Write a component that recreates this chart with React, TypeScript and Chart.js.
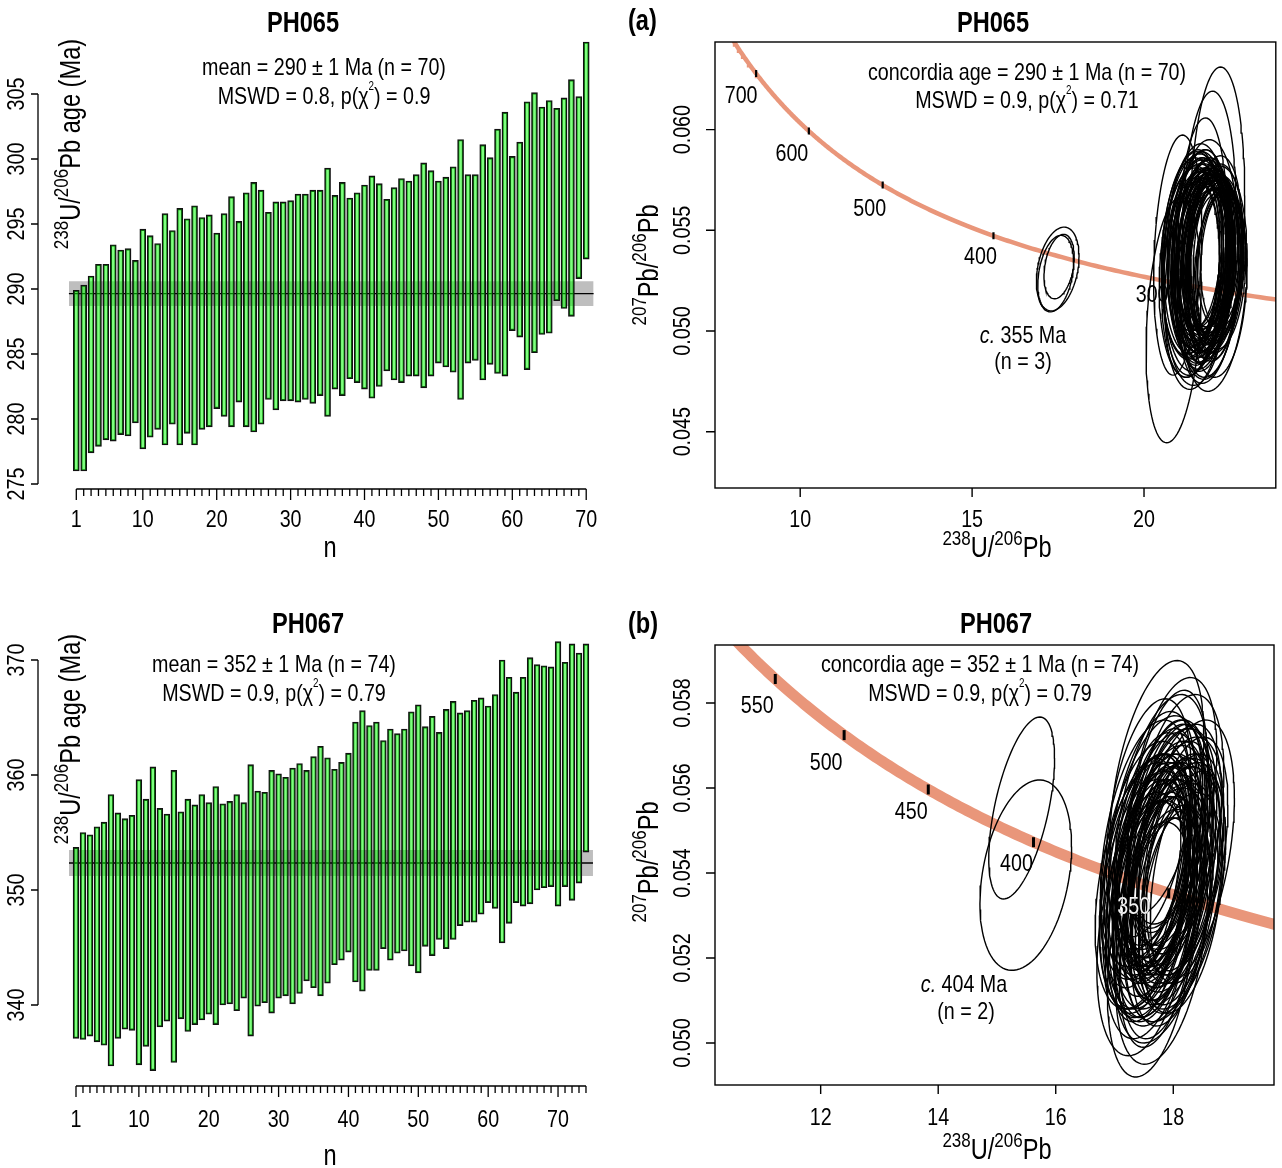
import React, { useEffect, useRef } from 'react';
import { Chart, registerables } from 'chart.js';

Chart.register(...registerables);

const PAGE_W = 1282;
const PAGE_H = 1168;
const FONT_FAMILY = "'Liberation Sans', Arial, Helvetica, sans-serif";
const NARROW = 0.82;
const SALMON = '#E9967A';

// ---------------- PH065 : 206Pb/238U ages (Ma), lower / upper ends of each bar ----------------
const PH065_LOW = [
  276.0, 276.0, 277.4, 277.9, 278.4, 278.3, 278.8, 278.7, 279.7, 277.7,
  278.6, 279.2, 278.0, 279.6, 278.0, 278.9, 278.0, 279.2, 279.4, 280.8,
  280.2, 279.4, 281.3, 279.4, 279.0, 279.6, 281.5, 280.7, 281.4, 281.4,
  281.3, 281.5, 281.2, 281.8, 280.2, 282.3, 281.8, 283.1, 282.8, 282.3,
  281.6, 282.5, 283.7, 283.0, 282.8, 283.3, 283.3, 282.4, 283.3, 284.3,
  284.0, 283.6, 281.5, 284.3, 284.5, 283.0, 284.2, 283.5, 283.3, 286.8,
  286.3, 283.8, 285.1, 286.5, 286.6, 289.1, 288.5, 287.9, 290.8, 292.3,
];
const PH065_HIGH = [
  289.9, 290.3, 291.0, 291.9, 291.9, 293.4, 293.0, 293.1, 292.2, 294.6,
  294.1, 293.5, 295.8, 294.5, 296.2, 295.4, 296.4, 295.5, 295.7, 294.3,
  295.8, 297.1, 295.2, 297.4, 298.2, 297.6, 295.9, 296.7, 296.7, 296.8,
  297.3, 297.3, 297.6, 297.6, 299.3, 297.2, 298.2, 297.0, 297.4, 298.0,
  298.7, 298.1, 296.9, 297.8, 298.5, 298.3, 298.8, 299.7, 299.1, 298.3,
  298.6, 299.4, 301.5, 298.8, 298.8, 301.1, 300.1, 302.3, 303.6, 300.2,
  301.3, 304.4, 305.1, 304.0, 304.5, 303.9, 304.7, 306.1, 304.8, 309.0,
];
const PH065_MEAN = 289.65;
const PH065_MEAN_ERR = 0.95;
const PH065_Y_TICKS = [275, 280, 285, 290, 295, 300, 305];
const N_MAJOR_TICKS = [1, 10, 20, 30, 40, 50, 60, 70];

// ---------------- PH067 ----------------
const PH067_LOW = [
  337.1, 337.0, 337.3, 336.8, 336.5, 334.7, 337.1, 337.9, 337.8, 334.8,
  336.4, 334.3, 338.1, 338.6, 335.0, 338.8, 337.7, 338.3, 338.7, 339.2,
  338.3, 340.0, 340.1, 339.5, 340.6, 337.3, 339.9, 340.2, 339.3, 340.6,
  340.8, 340.1, 341.0, 342.1, 341.5, 340.8, 341.9, 343.5, 343.9, 344.6,
  342.0, 341.2, 343.0, 343.0, 344.9, 343.9, 344.5, 344.7, 343.4, 342.8,
  345.1, 344.3, 345.7, 344.9, 345.7, 346.9, 347.2, 347.2, 347.9, 348.9,
  348.4, 345.4, 347.1, 348.9, 348.6, 348.8, 350.0, 350.2, 350.3, 348.6,
  350.3, 349.1, 350.6, 353.3,
];
const PH067_HIGH = [
  353.7, 355.0, 354.8, 355.5, 355.9, 358.3, 356.7, 356.2, 356.5, 359.6,
  357.9, 360.7, 357.1, 356.6, 360.4, 356.8, 357.9, 357.4, 358.3, 357.6,
  359.0, 357.5, 357.7, 358.3, 357.6, 360.9, 358.6, 358.5, 360.4, 360.1,
  359.8, 360.6, 361.0, 360.4, 361.6, 362.5, 361.5, 360.5, 361.1, 361.9,
  364.6, 365.6, 364.3, 364.6, 363.0, 364.0, 363.6, 364.0, 365.5, 366.1,
  364.2, 365.1, 363.7, 365.7, 366.4, 365.4, 365.6, 366.5, 366.7, 366.0,
  367.0, 370.0, 368.5, 367.2, 368.5, 370.2, 369.6, 369.5, 369.4, 371.6,
  369.8, 371.4, 370.6, 371.4,
];
const PH067_MEAN = 352.35;
const PH067_MEAN_ERR = 1.13;
const PH067_Y_TICKS = [340, 350, 360, 370];

// ---------------- Concordia error ellipses: [238U/206Pb, 207Pb/206Pb, half-width, half-height, rho] ----------------
const PH065_ELLIPSES = [
  [22.13, 0.05586, 0.80, 0.00725, 0.12], [21.90, 0.05526, 0.78, 0.00665, 0.12],
  [21.70, 0.05452, 0.72, 0.00606, 0.12], [20.98, 0.05377, 0.70, 0.00596, 0.20],
  [20.86, 0.05055, 0.80, 0.00610, 0.25],
  [21.62, 0.0535, 0.80, 0.0045, 0.15], [21.85, 0.0530, 0.72, 0.0040, 0.10], [21.48, 0.0541, 0.90, 0.0052, 0.20],
  [22.05, 0.0528, 0.76, 0.0043, 0.13], [21.71, 0.0537, 0.85, 0.0048, 0.17], [21.93, 0.0533, 0.67, 0.0037, 0.07],
  [21.55, 0.0526, 0.95, 0.0055, 0.23], [22.12, 0.0539, 0.78, 0.0044, 0.12], [21.79, 0.0531, 0.74, 0.0041, 0.16],
  [21.38, 0.0536, 0.88, 0.0050, 0.11], [22.20, 0.0532, 0.70, 0.0038, 0.19], [21.66, 0.0543, 0.83, 0.0047, 0.14],
  [21.88, 0.0527, 0.92, 0.0053, 0.21], [21.44, 0.0534, 0.77, 0.0042, 0.09], [22.01, 0.0538, 0.73, 0.0040, 0.18],
  [21.74, 0.0529, 0.86, 0.0049, 0.15], [21.59, 0.0540, 0.79, 0.0045, 0.12], [21.97, 0.0535, 0.66, 0.0036, 0.20],
  [21.83, 0.0544, 0.89, 0.0051, 0.08], [22.25, 0.0530, 0.71, 0.0039, 0.16], [21.51, 0.0532, 0.94, 0.0054, 0.22],
  [21.69, 0.0527, 0.82, 0.0046, 0.13], [22.08, 0.0536, 0.76, 0.0042, 0.11], [21.90, 0.0539, 0.68, 0.0037, 0.17],
  [21.35, 0.0529, 0.91, 0.0052, 0.14], [21.77, 0.0542, 0.78, 0.0044, 0.19], [22.15, 0.0534, 0.72, 0.0040, 0.10],
  [21.63, 0.0531, 0.84, 0.0048, 0.15], [21.86, 0.0537, 0.74, 0.0041, 0.21], [21.47, 0.0545, 0.80, 0.0045, 0.12],
  [22.03, 0.0526, 0.97, 0.0056, 0.18], [21.72, 0.0533, 0.77, 0.0043, 0.09], [21.95, 0.0540, 0.70, 0.0038, 0.16],
  [21.57, 0.0536, 0.88, 0.0050, 0.13], [22.18, 0.0529, 0.73, 0.0040, 0.20], [21.81, 0.0534, 0.83, 0.0047, 0.11],
  [21.41, 0.0538, 0.90, 0.0051, 0.15], [21.99, 0.0531, 0.68, 0.0037, 0.17], [21.68, 0.0546, 0.79, 0.0044, 0.14],
  [22.10, 0.0535, 0.76, 0.0042, 0.22], [21.53, 0.0528, 0.96, 0.0055, 0.10], [21.87, 0.0541, 0.72, 0.0040, 0.19],
  [21.76, 0.0532, 0.85, 0.0048, 0.12], [22.22, 0.0537, 0.66, 0.0035, 0.16], [21.60, 0.0530, 0.82, 0.0046, 0.08],
  [21.92, 0.0527, 0.89, 0.0050, 0.18], [21.45, 0.0533, 0.74, 0.0041, 0.13], [22.06, 0.0543, 0.78, 0.0044, 0.21],
  [21.70, 0.0539, 0.71, 0.0039, 0.15], [21.84, 0.0529, 0.92, 0.0053, 0.11], [21.36, 0.0535, 0.84, 0.0047, 0.17],
  [21.98, 0.0532, 0.77, 0.0043, 0.14], [21.64, 0.0538, 0.67, 0.0036, 0.20], [22.13, 0.0526, 0.86, 0.0049, 0.09],
  [21.78, 0.0540, 0.80, 0.0045, 0.16], [21.50, 0.0534, 0.95, 0.0054, 0.12], [21.89, 0.0530, 0.73, 0.0041, 0.19],
  [22.30, 0.0536, 0.65, 0.0034, 0.15], [21.58, 0.0542, 0.83, 0.0047, 0.13], [21.73, 0.0531, 0.76, 0.0042, 0.18],
  [21.94, 0.0537, 0.70, 0.0038, 0.10], [21.42, 0.0528, 0.90, 0.0051, 0.21], [22.02, 0.0533, 0.79, 0.0044, 0.14],
  [21.80, 0.0539, 0.72, 0.0040, 0.17], [21.67, 0.0535, 0.85, 0.0048, 0.12],
];
const PH065_OUTLIERS = [
  [17.49, 0.05308, 0.62, 0.00208, 0.30],
  [17.43, 0.05285, 0.52, 0.00190, 0.30],
  [17.53, 0.05320, 0.44, 0.00160, 0.30],
];
const PH065_CONC_AGES = [300, 400, 500, 600, 700];

const PH067_ELLIPSES = [
  [17.78, 0.0541, 0.73, 0.0027, 0.40], [17.62, 0.0536, 0.64, 0.0025, 0.35], [17.95, 0.0545, 0.79, 0.0029, 0.43],
  [17.70, 0.0532, 0.67, 0.0026, 0.37], [18.05, 0.0540, 0.75, 0.0028, 0.41], [17.55, 0.0538, 0.81, 0.0030, 0.39],
  [17.88, 0.0534, 0.61, 0.0024, 0.33], [17.74, 0.0547, 0.69, 0.0027, 0.42], [18.12, 0.0537, 0.77, 0.0029, 0.38],
  [17.66, 0.0543, 0.63, 0.0025, 0.36], [17.83, 0.0530, 0.84, 0.0030, 0.40], [17.50, 0.0533, 0.70, 0.0026, 0.34],
  [17.97, 0.0549, 0.66, 0.0026, 0.39], [17.72, 0.0539, 0.57, 0.0023, 0.32], [18.20, 0.0544, 0.73, 0.0028, 0.43],
  [17.60, 0.0529, 0.76, 0.0028, 0.37], [17.91, 0.0541, 0.64, 0.0025, 0.35], [17.80, 0.0552, 0.80, 0.0030, 0.42],
  [17.45, 0.0540, 0.68, 0.0027, 0.38], [18.02, 0.0531, 0.61, 0.0024, 0.34], [17.68, 0.0546, 0.86, 0.0031, 0.41],
  [17.86, 0.0536, 0.67, 0.0026, 0.36], [17.58, 0.0544, 0.62, 0.0024, 0.39], [18.10, 0.0548, 0.72, 0.0027, 0.40],
  [17.76, 0.0533, 0.78, 0.0029, 0.35], [17.93, 0.0538, 0.65, 0.0025, 0.38], [17.64, 0.0550, 0.74, 0.0028, 0.42],
  [17.82, 0.0542, 0.59, 0.0023, 0.33], [18.15, 0.0533, 0.68, 0.0026, 0.37], [17.53, 0.0547, 0.77, 0.0029, 0.41],
  [17.99, 0.0535, 0.85, 0.0030, 0.39], [17.71, 0.0540, 0.66, 0.0025, 0.36], [17.87, 0.0551, 0.63, 0.0025, 0.40],
  [17.48, 0.0535, 0.73, 0.0027, 0.34], [18.07, 0.0543, 0.79, 0.0029, 0.42], [17.79, 0.0528, 0.69, 0.0027, 0.37],
  [17.61, 0.0541, 0.58, 0.0023, 0.35], [17.94, 0.0546, 0.75, 0.0028, 0.41], [17.73, 0.0536, 0.83, 0.0030, 0.38],
  [18.25, 0.0539, 0.64, 0.0025, 0.39], [17.56, 0.0531, 0.67, 0.0026, 0.36], [17.89, 0.0544, 0.70, 0.0027, 0.40],
  [17.67, 0.0548, 0.65, 0.0025, 0.37], [18.00, 0.0538, 0.80, 0.0029, 0.41], [17.84, 0.0534, 0.62, 0.0024, 0.34],
  [17.52, 0.0543, 0.76, 0.0028, 0.39], [17.96, 0.0530, 0.68, 0.0026, 0.36], [17.75, 0.0545, 0.73, 0.0028, 0.42],
  [18.13, 0.0541, 0.59, 0.0024, 0.35], [17.63, 0.0537, 0.78, 0.0029, 0.38], [17.90, 0.0549, 0.66, 0.0026, 0.41],
  [17.69, 0.0532, 0.72, 0.0027, 0.37], [17.81, 0.0539, 0.85, 0.0031, 0.40], [18.04, 0.0546, 0.63, 0.0025, 0.39],
  [17.57, 0.0542, 0.69, 0.0026, 0.35], [17.92, 0.0533, 0.75, 0.0028, 0.38], [17.77, 0.0544, 0.61, 0.0024, 0.41],
  [17.46, 0.0537, 0.79, 0.0029, 0.36], [18.09, 0.0535, 0.67, 0.0026, 0.39], [17.65, 0.0539, 0.64, 0.0025, 0.37],
  [17.85, 0.0547, 0.77, 0.0029, 0.42], [17.98, 0.0540, 0.70, 0.0027, 0.38], [17.59, 0.0534, 0.74, 0.0028, 0.35],
  [18.18, 0.0542, 0.68, 0.0026, 0.40], [17.72, 0.0560, 0.80, 0.0030, 0.43], [17.98, 0.0557, 0.76, 0.0029, 0.41],
  [17.62, 0.0522, 0.74, 0.0030, 0.35], [17.80, 0.0524, 0.78, 0.0029, 0.37], [18.22, 0.0545, 0.82, 0.0031, 0.41],
  [17.50, 0.0527, 0.80, 0.0030, 0.33], [17.90, 0.0555, 0.68, 0.0028, 0.42], [17.74, 0.0526, 0.66, 0.0027, 0.38],
  [18.06, 0.0552, 0.80, 0.0030, 0.40], [17.58, 0.0553, 0.72, 0.0028, 0.39],
];
const PH067_OUTLIERS = [
  [15.42, 0.05553, 0.56, 0.00214, 0.55],
  [15.49, 0.05395, 0.78, 0.00224, 0.30],
];
const PH067_CONC_AGES = [350, 400, 450, 500, 550];

// decay constants (per Ma) and 238U/235U for the Tera-Wasserburg concordia
const LAMBDA_238 = 1.55125e-4;
const LAMBDA_235 = 9.8485e-4;
const U238_U235 = 137.818;

function concordiaPoint(t: number) {
  const a = Math.exp(LAMBDA_238 * t) - 1;
  const b = Math.exp(LAMBDA_235 * t) - 1;
  return { x: 1 / a, y: b / a / U238_U235 };
}
function concordiaCurve(t0: number, t1: number) {
  const pts: { x: number; y: number }[] = [];
  for (let t = t0; t <= t1; t += 2) pts.push(concordiaPoint(t));
  return pts;
}
function ellipsePoints(e: number[]) {
  const [u, v, su, sv, rho] = e;
  const pts: { x: number; y: number }[] = [];
  const k = Math.sqrt(1 - rho * rho);
  for (let i = 0; i <= 96; i++) {
    const th = (2 * Math.PI * i) / 96;
    pts.push({ x: u + su * Math.cos(th), y: v + sv * (rho * Math.cos(th) + k * Math.sin(th)) });
  }
  return pts;
}

// ---------------- text helper ----------------
type Seg = { t: string; sup?: number; it?: boolean };
function richText(
  ctx: CanvasRenderingContext2D,
  segs: Seg[],
  x: number,
  y: number,
  size: number,
  opts: { bold?: boolean; align?: 'left' | 'center' | 'right'; rot?: number; color?: string } = {}
) {
  ctx.save();
  ctx.translate(x, y);
  if (opts.rot) ctx.rotate(opts.rot);
  ctx.scale(NARROW, 1);
  const font = (s: Seg) =>
    `${s.it ? 'italic ' : ''}${opts.bold ? 'bold ' : ''}${(s.sup ? size * s.sup : size).toFixed(2)}px ${FONT_FAMILY}`;
  const widths = segs.map((s) => {
    ctx.font = font(s);
    return ctx.measureText(s.t).width;
  });
  const total = widths.reduce((p, c) => p + c, 0);
  let cx = opts.align === 'left' ? 0 : opts.align === 'right' ? -total : -total / 2;
  ctx.textAlign = 'left';
  ctx.textBaseline = 'middle';
  ctx.fillStyle = opts.color ?? '#000';
  segs.forEach((s, i) => {
    ctx.font = font(s);
    const dy = s.sup ? -size * (s.sup < 0.6 ? 0.42 : 0.34) : 0;
    ctx.fillText(s.t, cx, dy);
    cx += widths[i];
  });
  ctx.restore();
}
const plain = (t: string): Seg[] => [{ t }];
const mswdLine = (mswd: string, p: string): Seg[] => [
  { t: `MSWD = ${mswd}, p(\u03C7` },
  { t: '2', sup: 0.5 },
  { t: `) = ${p}` },
];
const AGE_TITLE: Seg[] = [{ t: '238', sup: 0.72 }, { t: 'U/' }, { t: '206', sup: 0.72 }, { t: 'Pb age (Ma)' }];
const PB_TITLE: Seg[] = [{ t: '207', sup: 0.72 }, { t: 'Pb/' }, { t: '206', sup: 0.72 }, { t: 'Pb' }];
const U_TITLE: Seg[] = [{ t: '238', sup: 0.72 }, { t: 'U/' }, { t: '206', sup: 0.72 }, { t: 'Pb' }];

const BASE = 24;
const BIG = 28.8;

type Area = { l: number; r: number; t: number; b: number };
const padding = (a: Area) => ({ left: a.l, right: PAGE_W - a.r, top: a.t, bottom: PAGE_H - a.b });

// ---------------- weighted-mean bar panel ----------------
interface BarPanel {
  lows: number[];
  highs: number[];
  mean: number;
  err: number;
  yTicks: number[];
  area: Area;
  xRange: [number, number];
  yRange: [number, number];
  barThickness: number;
  title: string;
  titleXY: [number, number];
  line1: Seg[];
  line2: Seg[];
  textX: number;
  textY: [number, number];
  yTitleXY: [number, number];
  xLabelY: number;
  nXY: [number, number];
}

function barConfig(p: BarPanel): any {
  const n = p.lows.length;
  const decor = {
    id: 'barDecor',
    afterDatasetsDraw(chart: any) {
      const ctx: CanvasRenderingContext2D = chart.ctx;
      const xs = chart.scales.x;
      const ys = chart.scales.y;
      const a = chart.chartArea;
      ctx.save();
      ctx.strokeStyle = '#000';
      ctx.lineWidth = 1.3;
      ctx.beginPath();
      ctx.moveTo(a.left, ys.getPixelForValue(p.yTicks[0]));
      ctx.lineTo(a.left, ys.getPixelForValue(p.yTicks[p.yTicks.length - 1]));
      for (const v of p.yTicks) {
        const py = ys.getPixelForValue(v);
        ctx.moveTo(a.left - 7, py);
        ctx.lineTo(a.left, py);
      }
      ctx.moveTo(xs.getPixelForValue(1), a.bottom);
      ctx.lineTo(xs.getPixelForValue(n), a.bottom);
      for (let i = 1; i <= n; i++) {
        const px = xs.getPixelForValue(i);
        ctx.moveTo(px, a.bottom);
        ctx.lineTo(px, a.bottom + (N_MAJOR_TICKS.includes(i) ? 11 : 7));
      }
      ctx.stroke();
      ctx.restore();
      for (const v of p.yTicks) richText(ctx, plain(String(v)), a.left - 21, ys.getPixelForValue(v), BASE, { rot: -Math.PI / 2 });
      for (const v of N_MAJOR_TICKS) richText(ctx, plain(String(v)), xs.getPixelForValue(v), p.xLabelY, BASE);
      richText(ctx, plain('n'), p.nXY[0], p.nXY[1], BIG);
      richText(ctx, AGE_TITLE, p.yTitleXY[0], p.yTitleXY[1], BIG, { rot: -Math.PI / 2 });
      richText(ctx, plain(p.title), p.titleXY[0], p.titleXY[1], BIG, { bold: true });
      richText(ctx, p.line1, p.textX, p.textY[0], BASE);
      richText(ctx, p.line2, p.textX, p.textY[1], BASE);
    },
  };
  return {
    type: 'bar',
    data: {
      datasets: [
        {
          type: 'bar',
          data: p.lows.map((lo, i) => ({ x: i + 1, y: [lo, p.highs[i]] })),
          backgroundColor: 'rgba(0,255,0,0.5)',
          borderColor: '#111',
          borderWidth: 1.4,
          borderSkipped: false,
          barThickness: p.barThickness,
        },
        {
          type: 'line',
          data: [{ x: 0, y: p.mean }, { x: n + 1, y: p.mean }],
          borderColor: '#000',
          borderWidth: 1.3,
          pointRadius: 0,
          fill: false,
        },
        {
          type: 'line',
          data: [{ x: 0, y: p.mean + p.err }, { x: n + 1, y: p.mean + p.err }],
          borderWidth: 0,
          borderColor: 'rgba(0,0,0,0)',
          pointRadius: 0,
          backgroundColor: '#bebebe',
          fill: { value: p.mean - p.err },
        },
      ],
    },
    options: {
      responsive: false,
      animation: false,
      events: [],
      layout: { padding: padding(p.area) },
      scales: {
        x: { type: 'linear', min: p.xRange[0], max: p.xRange[1], display: false, offset: false },
        y: { type: 'linear', min: p.yRange[0], max: p.yRange[1], display: false },
      },
      plugins: { legend: { display: false }, tooltip: { enabled: false }, title: { display: false } },
    },
    plugins: [decor],
  };
}

// ---------------- concordia panel ----------------
interface ConcPanel {
  ellipses: number[][];
  outliers: number[][];
  ages: number[];
  labelOffsets: number[][];
  whiteLabelAges: number[];
  curveAges: [number, number];
  curveWidth: number;
  tickRadius: number;
  tickWidth: number;
  area: Area;
  xRange: [number, number];
  yRange: [number, number];
  xTicks: number[];
  yTicks: number[];
  yDigits: number;
  tag: string;
  tagXY: [number, number];
  title: string;
  titleXY: [number, number];
  line1: Seg[];
  line2: Seg[];
  textX: number;
  textY: [number, number];
  note1: Seg[];
  note2: Seg[];
  note1XY: [number, number];
  note2XY: [number, number];
  xLabelY: number;
  yLabelX: number;
  xTitleXY: [number, number];
  yTitleXY: [number, number];
}

function concConfig(p: ConcPanel): any {
  const ellipseSets = [...p.ellipses, ...p.outliers].map((e) => ({
    data: ellipsePoints(e),
    showLine: true,
    borderColor: '#000',
    borderWidth: 1.4,
    pointRadius: 0,
    fill: false,
    clip: 0,
  }));
  const decor = {
    id: 'concDecor',
    beforeDatasetsDraw(chart: any) {
      const ctx: CanvasRenderingContext2D = chart.ctx;
      const xs = chart.scales.x;
      const ys = chart.scales.y;
      p.ages.forEach((t, i) => {
        const c = concordiaPoint(t);
        richText(ctx, plain(String(t)), xs.getPixelForValue(c.x) + p.labelOffsets[i][0], ys.getPixelForValue(c.y) + p.labelOffsets[i][1], BASE);
      });
    },
    afterDatasetsDraw(chart: any) {
      const ctx: CanvasRenderingContext2D = chart.ctx;
      const xs = chart.scales.x;
      const ys = chart.scales.y;
      const a = chart.chartArea;
      p.ages.forEach((t, i) => {
        if (!p.whiteLabelAges.includes(t)) return;
        const c = concordiaPoint(t);
        richText(ctx, plain(String(t)), xs.getPixelForValue(c.x) + p.labelOffsets[i][0], ys.getPixelForValue(c.y) + p.labelOffsets[i][1], BASE, { color: '#f2f2f2' });
      });
      ctx.save();
      ctx.strokeStyle = '#000';
      ctx.lineWidth = 1.4;
      ctx.strokeRect(a.left, a.top, a.right - a.left, a.bottom - a.top);
      ctx.beginPath();
      for (const v of p.xTicks) {
        const px = xs.getPixelForValue(v);
        ctx.moveTo(px, a.bottom);
        ctx.lineTo(px, a.bottom + 9);
      }
      for (const v of p.yTicks) {
        const py = ys.getPixelForValue(v);
        ctx.moveTo(a.left - 9, py);
        ctx.lineTo(a.left, py);
      }
      ctx.stroke();
      ctx.restore();
      for (const v of p.xTicks) richText(ctx, plain(String(v)), xs.getPixelForValue(v), p.xLabelY, BASE);
      for (const v of p.yTicks) richText(ctx, plain(v.toFixed(p.yDigits)), p.yLabelX, ys.getPixelForValue(v), BASE, { rot: -Math.PI / 2 });
      richText(ctx, U_TITLE, p.xTitleXY[0], p.xTitleXY[1], BIG);
      richText(ctx, PB_TITLE, p.yTitleXY[0], p.yTitleXY[1], BIG, { rot: -Math.PI / 2 });
      richText(ctx, plain(p.tag), p.tagXY[0], p.tagXY[1], BIG, { bold: true, align: 'left' });
      richText(ctx, plain(p.title), p.titleXY[0], p.titleXY[1], BIG, { bold: true });
      richText(ctx, p.line1, p.textX, p.textY[0], BASE);
      richText(ctx, p.line2, p.textX, p.textY[1], BASE);
      richText(ctx, p.note1, p.note1XY[0], p.note1XY[1], BASE);
      richText(ctx, p.note2, p.note2XY[0], p.note2XY[1], BASE);
    },
  };
  return {
    type: 'scatter',
    data: {
      datasets: [
        ...ellipseSets,
        {
          data: p.ages.map(concordiaPoint),
          showLine: false,
          pointStyle: 'line',
          pointRotation: 90,
          pointRadius: p.tickRadius,
          pointBorderWidth: p.tickWidth,
          pointBorderColor: '#000',
          pointBackgroundColor: '#000',
        },
        {
          data: concordiaCurve(p.curveAges[0], p.curveAges[1]),
          showLine: true,
          borderColor: SALMON,
          borderWidth: p.curveWidth,
          pointRadius: 0,
          fill: false,
          clip: 0,
        },
      ],
    },
    options: {
      responsive: false,
      animation: false,
      events: [],
      layout: { padding: padding(p.area) },
      scales: {
        x: { type: 'linear', min: p.xRange[0], max: p.xRange[1], display: false },
        y: { type: 'linear', min: p.yRange[0], max: p.yRange[1], display: false },
      },
      plugins: { legend: { display: false }, tooltip: { enabled: false }, title: { display: false } },
    },
    plugins: [decor],
  };
}

const PANEL_TL: BarPanel = {
  lows: PH065_LOW,
  highs: PH065_HIGH,
  mean: PH065_MEAN,
  err: PH065_MEAN_ERR,
  yTicks: PH065_Y_TICKS,
  area: { l: 38, r: 600, t: 30, b: 489 },
  xRange: [-4.183, 71.866],
  yRange: [274.615, 309.923],
  barThickness: 6,
  title: 'PH065',
  titleXY: [303, 24],
  line1: plain('mean = 290 \u00B1 1 Ma (n = 70)'),
  line2: mswdLine('0.8', '0.9'),
  textX: 324,
  textY: [68, 97],
  yTitleXY: [72, 144],
  xLabelY: 520,
  nXY: [330, 549],
};

const PANEL_BL: BarPanel = {
  lows: PH067_LOW,
  highs: PH067_HIGH,
  mean: PH067_MEAN,
  err: PH067_MEAN_ERR,
  yTicks: PH067_Y_TICKS,
  area: { l: 38, r: 600, t: 630, b: 1086 },
  xRange: [-4.439, 76.007],
  yRange: [332.957, 372.609],
  barThickness: 5.8,
  title: 'PH067',
  titleXY: [308, 625],
  line1: plain('mean = 352 \u00B1 1 Ma (n = 74)'),
  line2: mswdLine('0.9', '0.79'),
  textX: 274,
  textY: [665, 694],
  yTitleXY: [72, 739],
  xLabelY: 1120,
  nXY: [330, 1157],
};

const PANEL_TR: ConcPanel = {
  ellipses: PH065_ELLIPSES,
  outliers: PH065_OUTLIERS,
  ages: PH065_CONC_AGES,
  labelOffsets: [[-26, 12], [-13, 22], [-13, 24], [-17, 23], [-15, 23]],
  whiteLabelAges: [],
  curveAges: [240, 800],
  curveWidth: 4.5,
  tickRadius: 3.5,
  tickWidth: 2.2,
  area: { l: 715, r: 1281, t: 42, b: 488 },
  xRange: [7.522, 23.833],
  yRange: [0.042205, 0.06435],
  xTicks: [10, 15, 20],
  yTicks: [0.045, 0.05, 0.055, 0.06],
  yDigits: 3,
  tag: '(a)',
  tagXY: [628, 22],
  title: 'PH065',
  titleXY: [993, 24],
  line1: plain('concordia age = 290 \u00B1 1 Ma (n = 70)'),
  line2: mswdLine('0.9', '0.71'),
  textX: 1027,
  textY: [73, 101],
  note1: [{ t: 'c.', it: true }, { t: ' 355 Ma' }],
  note2: plain('(n = 3)'),
  note1XY: [1023, 336],
  note2XY: [1023, 362],
  xLabelY: 520,
  yLabelX: 683,
  xTitleXY: [997, 549],
  yTitleXY: [650, 265],
};

const PANEL_BR: ConcPanel = {
  ellipses: PH067_ELLIPSES,
  outliers: PH067_OUTLIERS,
  ages: PH067_CONC_AGES,
  labelOffsets: [[-35, 14], [-17, 22], [-17, 23], [-18, 28], [-18, 27]],
  whiteLabelAges: [350],
  curveAges: [280, 700],
  curveWidth: 11,
  tickRadius: 5,
  tickWidth: 3,
  area: { l: 715, r: 1281, t: 645, b: 1085 },
  xRange: [10.202, 19.714],
  yRange: [0.049012, 0.059365],
  xTicks: [12, 14, 16, 18],
  yTicks: [0.05, 0.052, 0.054, 0.056, 0.058],
  yDigits: 3,
  tag: '(b)',
  tagXY: [628, 625],
  title: 'PH067',
  titleXY: [996, 625],
  line1: plain('concordia age = 352 \u00B1 1 Ma (n = 74)'),
  line2: mswdLine('0.9', '0.79'),
  textX: 980,
  textY: [665, 694],
  note1: [{ t: 'c.', it: true }, { t: ' 404 Ma' }],
  note2: plain('(n = 2)'),
  note1XY: [964, 985],
  note2XY: [966, 1012],
  xLabelY: 1118,
  yLabelX: 683,
  xTitleXY: [997, 1151],
  yTitleXY: [650, 862],
};

export default function App() {
  const c1 = useRef<HTMLCanvasElement>(null);
  const c2 = useRef<HTMLCanvasElement>(null);
  const c3 = useRef<HTMLCanvasElement>(null);
  const c4 = useRef<HTMLCanvasElement>(null);

  useEffect(() => {
    const charts = [
      new Chart(c1.current as HTMLCanvasElement, barConfig(PANEL_TL)),
      new Chart(c2.current as HTMLCanvasElement, concConfig(PANEL_TR)),
      new Chart(c3.current as HTMLCanvasElement, barConfig(PANEL_BL)),
      new Chart(c4.current as HTMLCanvasElement, concConfig(PANEL_BR)),
    ];
    return () => charts.forEach((c) => c.destroy());
  }, []);

  const cs: React.CSSProperties = { position: 'absolute', left: 0, top: 0 };
  return (
    <div style={{ position: 'absolute', left: 0, top: 0, width: PAGE_W, height: PAGE_H, background: '#fff', overflow: 'hidden' }}>
      <canvas ref={c1} width={PAGE_W} height={PAGE_H} style={cs} />
      <canvas ref={c2} width={PAGE_W} height={PAGE_H} style={cs} />
      <canvas ref={c3} width={PAGE_W} height={PAGE_H} style={cs} />
      <canvas ref={c4} width={PAGE_W} height={PAGE_H} style={cs} />
    </div>
  );
}
